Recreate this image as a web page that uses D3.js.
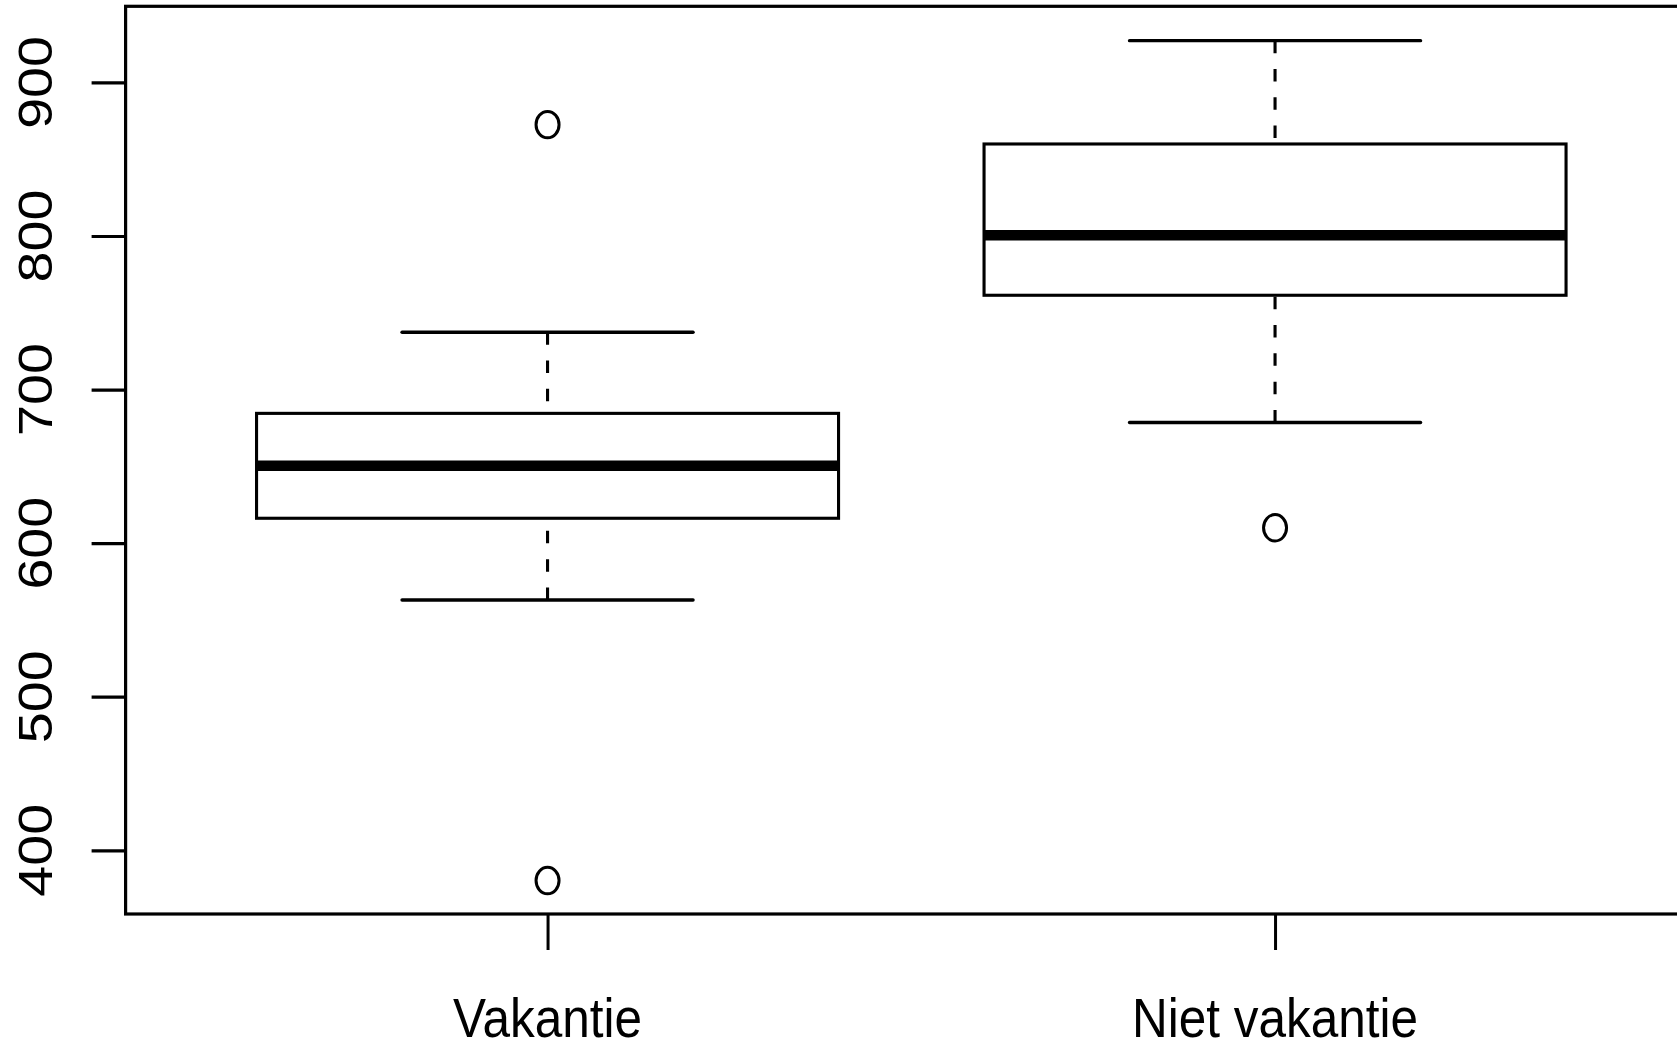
<!DOCTYPE html>
<html>
<head>
<meta charset="utf-8">
<script src="https://cdn.jsdelivr.net/npm/d3@7"></script>
<style>
  html, body { margin: 0; padding: 0; background: #fff; }
  svg { display: block; }
  text { font-family: "Liberation Sans", Arial, Helvetica, sans-serif; fill: #000; }
</style>
</head>
<body>
<svg id="chart" width="1677" height="1047"></svg>
<script>
// ---- data ----
const categories = ["Vakantie", "Niet vakantie"];
const whiskerLow  = [563, 678.6];
const q1          = [616.2, 761.4];
const medians     = [650.4, 800.5];
const q3          = [684.5, 859.9];
const whiskerHigh = [737.3, 927.2];
const outliers    = [[872.5, 380.3], [610]];
const yTicks      = [400, 500, 600, 700, 800, 900];

// ---- layout ----
const svg = d3.select("#chart");
const plotLeft = 125.6, plotTop = 6.3, plotBottom = 914, plotRight = 1697;
const stretch = 1.13;      // vertical stretch of glyphs in the reference
const fontSize = 49.5;
const yFontSize = 48;

const x = d3.scaleLinear().domain([0.42, 2.58]).range([plotLeft, plotRight]);
const y = d3.scaleLinear().domain([400, 900]).range([850.3, 82.4]);

const boxHalf = x(1.4) - x(1);   // 0.4 units
const capHalf = x(1.2) - x(1);   // 0.2 units
const lw = 3.1;

const data = categories.map((c, i) => ({
  cat: c, pos: i + 1,
  lo: whiskerLow[i], q1: q1[i], med: medians[i], q3: q3[i], hi: whiskerHigh[i],
  out: outliers[i]
}));

const g = svg.append("g");

data.forEach(d => {
  const cx = x(d.pos);
  // whiskers (dashed), drawn from whisker end toward box
  g.append("line")
    .attr("x1", cx).attr("x2", cx)
    .attr("y1", y(d.hi)).attr("y2", y(d.q3))
    .attr("stroke", "#000").attr("stroke-width", lw)
    .attr("stroke-dasharray", "12.5,15.8");
  g.append("line")
    .attr("x1", cx).attr("x2", cx)
    .attr("y1", y(d.lo)).attr("y2", y(d.q1))
    .attr("stroke", "#000").attr("stroke-width", lw)
    .attr("stroke-dasharray", "12.5,15.8");
  // caps
  [d.hi, d.lo].forEach(v => {
    g.append("line")
      .attr("x1", cx - capHalf).attr("x2", cx + capHalf)
      .attr("y1", y(v)).attr("y2", y(v))
      .attr("stroke", "#000").attr("stroke-width", lw * 1.1)
      .attr("stroke-linecap", "round");
  });
  // box
  g.append("rect")
    .attr("x", cx - boxHalf).attr("width", 2 * boxHalf)
    .attr("y", y(d.q3)).attr("height", y(d.q1) - y(d.q3))
    .attr("fill", "none").attr("stroke", "#000").attr("stroke-width", lw);
  // median
  g.append("line")
    .attr("x1", cx - boxHalf).attr("x2", cx + boxHalf)
    .attr("y1", y(d.med)).attr("y2", y(d.med))
    .attr("stroke", "#000").attr("stroke-width", 10.5);
  // outliers
  d.out.forEach(v => {
    g.append("ellipse")
      .attr("cx", cx).attr("cy", y(v))
      .attr("rx", 11.5).attr("ry", 11.5 * 1.15)
      .attr("fill", "none").attr("stroke", "#000").attr("stroke-width", 3);
  });
});

// plot frame
svg.append("rect")
  .attr("x", plotLeft).attr("y", plotTop)
  .attr("width", plotRight - plotLeft).attr("height", plotBottom - plotTop)
  .attr("fill", "none").attr("stroke", "#000").attr("stroke-width", 3.2);

// y axis ticks
const yAxis = d3.axisLeft(y).tickValues(yTicks).tickSize(34).tickFormat("");
const ya = svg.append("g").attr("transform", `translate(${plotLeft},0)`).call(yAxis);
ya.select(".domain").remove();
ya.selectAll(".tick line").attr("stroke", "#000").attr("stroke-width", 3.2);

yTicks.forEach(t => {
  svg.append("g")
    .attr("transform", `translate(52,${y(t)}) scale(1,1.16) rotate(-90)`)
    .append("text")
    .attr("text-anchor", "middle")
    .attr("font-size", yFontSize)
    .text(t);
});

// x axis ticks
const xAxis = d3.axisBottom(x).tickValues(data.map(d => d.pos)).tickSize(36).tickFormat("");
const xa = svg.append("g").attr("transform", `translate(0,${plotBottom})`).call(xAxis);
xa.select(".domain").remove();
xa.selectAll(".tick line").attr("stroke", "#000").attr("stroke-width", 3);

data.forEach(d => {
  svg.append("g")
    .attr("transform", `translate(${x(d.pos)},1037) scale(1,${stretch})`)
    .append("text")
    .attr("text-anchor", "middle")
    .attr("font-size", fontSize)
    .text(d.cat);
});
</script>
</body>
</html>
